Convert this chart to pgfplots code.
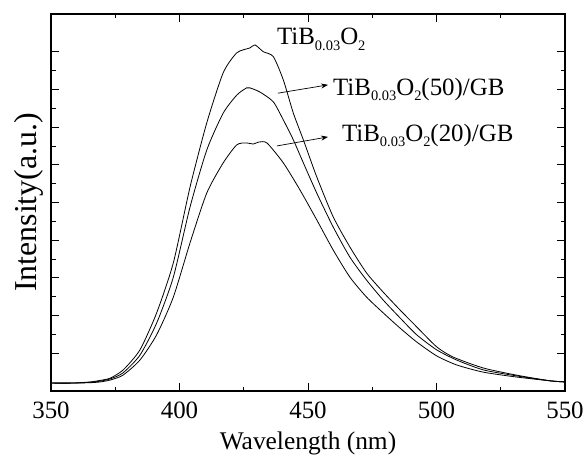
\documentclass[border=0pt]{standalone}
\usepackage{fontspec}
\setmainfont{Liberation Serif}
\usepackage{pgfplots}
\pgfplotsset{compat=1.18}
\usetikzlibrary{arrows.meta}
\newcommand{\sub}[1]{\raisebox{-0.45ex}{\fontsize{14.5}{14.5}\selectfont #1}}
\begin{document}
\begin{tikzpicture}
\begin{axis}[
  name=ax,
  scale only axis,
  width=514bp, height=377bp,
  xmin=350, xmax=550, ymin=0, ymax=10,
  xtick={350,400,450,500,550},
  minor x tick num=1,
  ytick={1,2,3,4,5,6,7,8,9},
  minor y tick num=1,
  yticklabels={},
  tick align=inside,
  major tick length=8bp, minor tick length=4.5bp,
  tick style={black, line width=0.8bp},
  axis line style={line width=1.2bp},
  font=\fontsize{25}{29}\selectfont,
  ticklabel style={font=\fontsize{25}{29}\selectfont},
  xticklabel style={inner sep=0pt, anchor=north, yshift=-11bp},
  /pgf/number format/assume math mode=true,
  xlabel={Wavelength (nm)},
  ylabel={Intensity(a.u.)},
  label style={inner sep=0pt},
  xlabel style={font=\fontsize{25.5}{29}\selectfont, at={(axis description cs:0.5,-0.1545)}, anchor=base},
  ylabel style={font=\fontsize{32}{36}\selectfont, at={(axis description cs:-0.029,0.5)}, anchor=base},
  clip=false,
]
% TiB0.03O2
\addplot[black, line width=0.8bp, smooth, tension=0.4] coordinates {
(350,0.21) (358,0.21) (365.2,0.24) (369,0.28) (373.0,0.34) (378.1,0.56) (384.6,1.09)
(391.1,2.07) (397.6,3.40) (404.1,5.41) (410.6,7.11) (417.0,8.44) (422.3,8.97)
(427.4,9.10) (429.4,9.18) (432.6,9.00) (436.5,8.87) (440.4,8.25) (444.3,7.37)
(448.2,6.66) (453.4,5.68) (459.8,4.62) (466.3,3.82) (472.8,3.13) (479.3,2.62)
(485.8,2.15) (492.3,1.70) (500.1,1.17) (506.5,0.90) (518.2,0.61) (531.2,0.42)
(544.2,0.27) (550,0.24)};
% TiB0.03O2(50)/GB
\addplot[black, line width=0.8bp, smooth, tension=0.4] coordinates {
(350,0.21) (358,0.21) (365.2,0.23) (369,0.26) (373.0,0.32) (378,0.48) (384.6,0.95)
(391.1,1.80) (397.6,3.02) (404.1,4.88) (410.6,6.39) (417.0,7.37) (422.3,7.85)
(426.1,8.04) (427.4,8.04) (431.3,7.93) (436.5,7.67) (440.4,7.19) (444.3,6.66)
(448.2,6.05) (453.4,5.25) (459.8,4.35) (466.3,3.55) (472.8,2.94) (479.3,2.41)
(485.8,1.94) (492.3,1.49) (500.1,1.09) (507.9,0.82) (518.2,0.56) (531.2,0.40)
(544.2,0.27) (550,0.24)};
% TiB0.03O2(20)/GB
\addplot[black, line width=0.8bp, smooth, tension=0.4] coordinates {
(350,0.21) (358,0.21) (365.2,0.22) (369,0.24) (373,0.29) (378,0.42) (384.6,0.82)
(391.1,1.49) (397.6,2.49) (404.1,3.93) (410.6,5.25) (417.0,6.05) (422.3,6.53)
(426.1,6.58) (428.7,6.55) (430.7,6.60) (434.0,6.58) (440.4,6.05) (446.9,5.33)
(453.4,4.54) (459.8,3.74) (466.3,3.02) (472.8,2.49) (479.3,2.07) (485.8,1.67)
(492.3,1.30) (500.1,0.93) (507.9,0.69) (518.2,0.50) (531.2,0.37) (544.2,0.27)
(550,0.24)};
\draw[-{Stealth[length=7bp,width=5bp]}, line width=0.7bp] (axis cs:438.3,7.90) -- (axis cs:457.8,8.12);
\draw[-{Stealth[length=7bp,width=5bp]}, line width=0.7bp] (axis cs:437.9,6.50) -- (axis cs:457.8,6.74);
\node[anchor=base west, inner sep=0pt] at (axis cs:437.9,9.18) {TiB\sub{0.03}O\sub{2}};
\node[anchor=base west, inner sep=0pt] at (axis cs:459.7,7.85) {TiB\sub{0.03}O\sub{2}(50)/GB};
\node[anchor=base west, inner sep=0pt] at (axis cs:463.2,6.61) {TiB\sub{0.03}O\sub{2}(20)/GB};
\end{axis}
\path ([xshift=-51bp,yshift=-64bp]ax.south west) rectangle ([xshift=19bp,yshift=14bp]ax.north east);
\end{tikzpicture}
\end{document}
